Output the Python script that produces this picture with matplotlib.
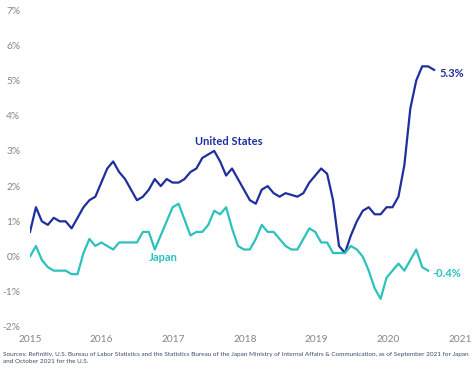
import matplotlib
matplotlib.use("Agg")
import matplotlib.pyplot as plt
import numpy as np

us_values = [0.7,
             1.4, 1.0, 0.9, 1.1, 1.0, 1.0, 0.8, 1.1, 1.4, 1.6, 1.7, 2.1,
             2.5, 2.7, 2.4, 2.2, 1.9, 1.6, 1.7, 1.9, 2.2, 2.0, 2.2, 2.1,
             2.1, 2.2, 2.4, 2.5, 2.8, 2.9, 3.0, 2.7, 2.3, 2.5, 2.2, 1.9,
             1.6, 1.5, 1.9, 2.0, 1.8, 1.7, 1.8, 1.75, 1.7, 1.8, 2.1, 2.3,
             2.5, 2.35, 1.6, 0.3, 0.1, 0.6, 1.0, 1.3, 1.4, 1.2, 1.2, 1.4,
             1.4, 1.7, 2.6, 4.2, 5.0, 5.4, 5.4, 5.3]
japan_values = [0.0, 0.3, -0.1, -0.3, -0.4, -0.4, -0.4, -0.5, -0.5, 0.1, 0.5, 0.3,
                0.4, 0.3, 0.2, 0.4, 0.4, 0.4, 0.4, 0.7, 0.7, 0.2, 0.6, 1.0,
                1.4, 1.5, 1.05, 0.6, 0.7, 0.7, 0.9, 1.3, 1.2, 1.4, 0.8, 0.3,
                0.2, 0.2, 0.5, 0.9, 0.7, 0.7, 0.5, 0.3, 0.2, 0.2, 0.5, 0.8,
                0.7, 0.4, 0.4, 0.1, 0.1, 0.1, 0.3, 0.2, 0.0, -0.4, -0.9, -1.2,
                -0.6, -0.4, -0.2, -0.4, -0.1, 0.2, -0.3, -0.4]
start_year = 2015
year_ticks = [2015, 2016, 2017, 2018, 2019, 2020, 2021]
y_ticks = [-2, -1, 0, 1, 2, 3, 4, 5, 6, 7]
us_label = "United States"
japan_label = "Japan"
source_text = ("Sources: Refinitiv, U.S. Bureau of Labor Statistics and the Statistics Bureau of the Japan Ministry of "
               "Internal Affairs & Communication, as of September 2021 for Japan\nand October 2021 for the U.S.")

US_COLOR = "#1f2f9c"
JP_COLOR = "#2cc1bd"
TICK_COLOR = "#858585"

plt.rcParams['font.family'] = ['Lato', 'DejaVu Sans']

W, H = 474, 377
fig = plt.figure(figsize=(W / 100, H / 100), dpi=100)
ax = fig.add_axes([30 / W, (H - 327) / H, (460 - 30) / W, (327 - 10) / H])

step = 0.995 / 12
us_x = start_year + np.arange(len(us_values)) * step
jp_x = start_year + np.arange(len(japan_values)) * step

ax.plot(us_x, us_values, color=US_COLOR, lw=1.6, solid_joinstyle='round')
ax.plot(jp_x, japan_values, color=JP_COLOR, lw=1.6, solid_joinstyle='round')

ax.set_xlim(2015, 2021)
ax.set_ylim(-2, 7)
ax.set_xticks(year_ticks)
ax.set_xticklabels([str(y) for y in year_ticks])
ax.set_yticks(y_ticks)
ax.set_yticklabels([f"{v}%" for v in y_ticks])
for s in ax.spines.values():
    s.set_visible(False)
ax.tick_params(axis='both', length=0, colors=TICK_COLOR, labelsize=7.3)
ax.tick_params(axis='y', pad=7)
ax.tick_params(axis='x', pad=6)
for lab in ax.get_yticklabels():
    lab.set_horizontalalignment('right')

ax.text(2017.78, 3.27, us_label, color=US_COLOR, fontsize=8, fontweight='bold',
        ha='center', va='center')
ax.text(2016.86, -0.03, japan_label, color=JP_COLOR, fontsize=8, fontweight='bold',
        ha='center', va='center')

ax.annotate(f"{us_values[-1]}%", xy=(us_x[-1], us_values[-1]), xytext=(5, -4),
            textcoords='offset pixels', color=US_COLOR, fontsize=8, fontweight='bold',
            ha='left', va='center')
ax.annotate(f"{japan_values[-1]}%", xy=(jp_x[-1], japan_values[-1]), xytext=(4, -3),
            textcoords='offset pixels', color=JP_COLOR, fontsize=8, fontweight='bold',
            ha='left', va='center')

fig.text(3 / W, 1 - 352 / H, source_text, fontsize=4.6, color="#3a4a6a",
         ha='left', va='top', linespacing=1.45)

fig.savefig("out.png", dpi=100, facecolor='white')
